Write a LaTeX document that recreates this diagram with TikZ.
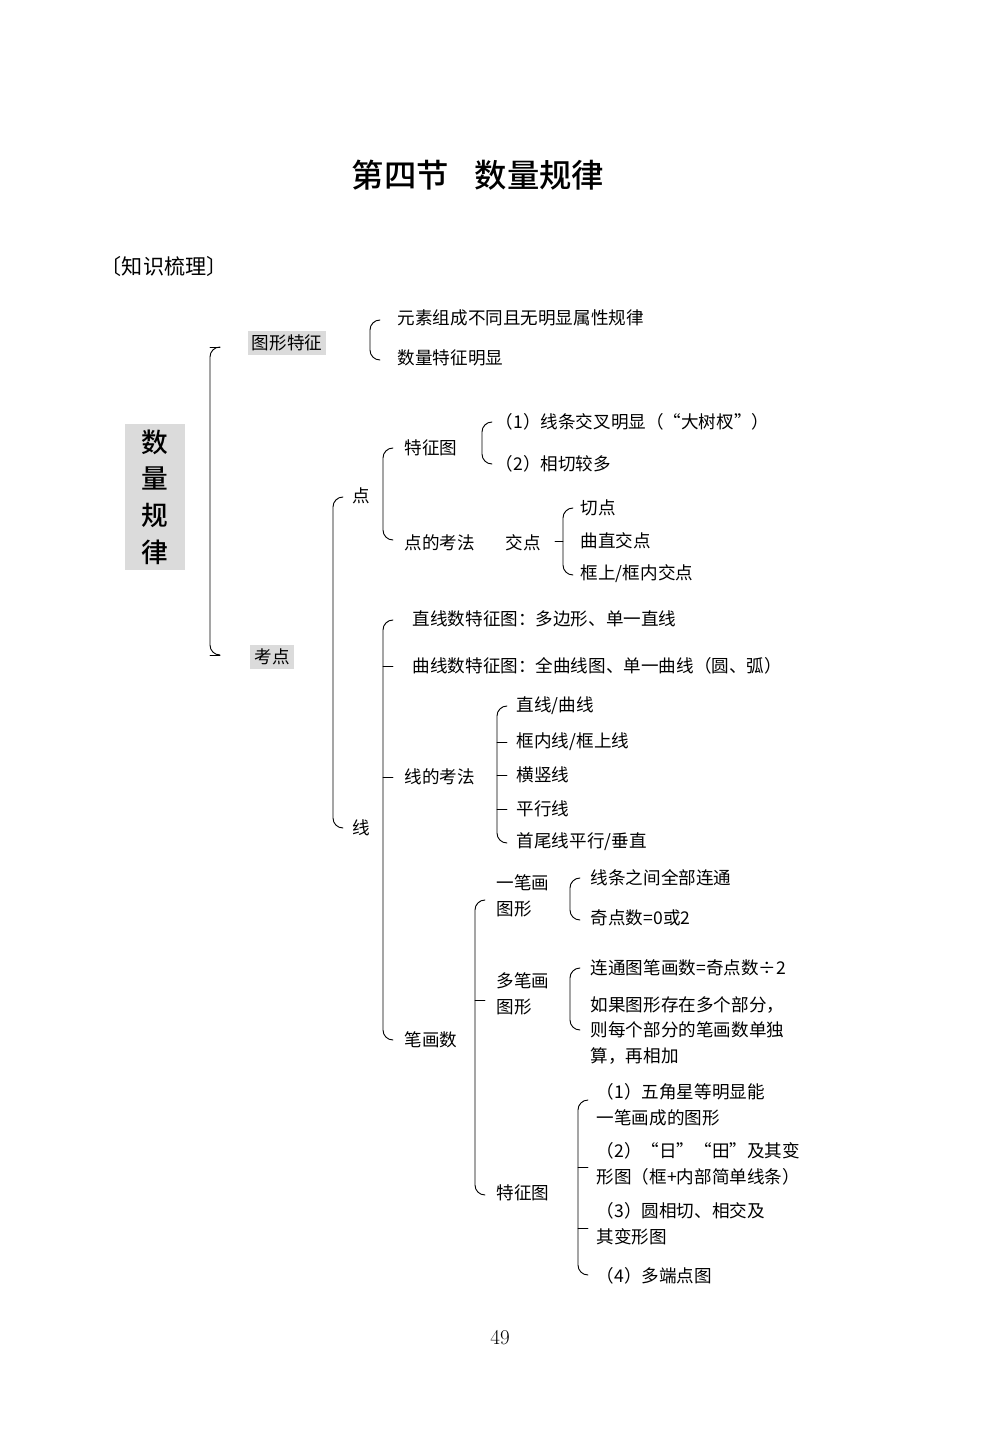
\documentclass[tikz,border=0pt]{standalone}
\usepackage{fontspec}
\newfontfamily\cjk{Noto Sans CJK SC}
\newfontfamily\cjkb{Noto Sans CJK SC Medium}
\begin{document}
\begin{tikzpicture}[x=0.05cm,y=-0.05cm,
  t/.style={font=\cjk\fontsize{25}{36}\selectfont,inner sep=1pt},
  tl/.style={t,anchor=west},
  tm/.style={t,align=left,anchor=north west},
  br/.style={line width=1.3pt,line cap=round},
  gbox/.style={t,fill=gray!28,inner sep=6pt}]
\useasboundingbox (0,0) rectangle (1000,1445);
\newcommand\brk[3]{\draw[br] ({#1+10},#2) to[out=180,in=90] (#1,{#2+10}) -- (#1,{#3-10}) to[out=-90,in=180] ({#1+10},#3);}
\newcommand\tk[2]{\draw[br] (#1,#2) -- ({#1+10},#2);}
\newcommand\tkl[2]{\draw[br] ({#1-8},#2) -- (#1,#2);}

\node[font=\cjkb\fontsize{46}{54}\selectfont] (title) at (478,175) {第四节\hspace{0.8em}数量规律};
\node[t,font=\cjk\fontsize{30}{36}\selectfont,anchor=west] (zs) at (100,266) {〔知识梳理〕};
\node[gbox,font=\cjkb\fontsize{38}{52}\selectfont,align=center,minimum width=85pt,inner ysep=8pt] (root) at (155,497) {数\\量\\规\\律};

\brk{210}{347}{655}
\node[gbox] (tx) at (287,343) {图形特征};
\node[gbox] (kd) at (272,657) {考点};
\tk{210}{347}\tk{210}{655}

\brk{370}{320}{360}
\node[tl] (a1) at (397,318) {元素组成不同且无明显属性规律};
\node[tl] (a2) at (397,358) {数量特征明显};

\brk{333}{497}{828}
\node[tl] (dian) at (352,496) {点};
\node[tl] (xian) at (352,828) {线};

\brk{383}{448}{540}
\node[tl] (tzt) at (404,448) {特征图};
\node[tl] (dkf) at (404,543) {点的考法};
\node[tl] (jd) at (505,543) {交点};

\brk{482}{422}{464}
\node[tl] (b1) at (495,422) {（1）线条交叉明显（“大树杈”）};
\node[tl] (b2) at (495,464) {（2）相切较多};

\brk{563}{508}{575}\tkl{563}{541}
\node[tl] (c1) at (580,508) {切点};
\node[tl] (c2) at (580,541) {曲直交点};
\node[tl] (c3) at (580,574) {框上/框内交点};

\brk{383}{620}{1040}\tk{383}{666}\tk{383}{777}
\node[tl] (d1) at (412,619) {直线数特征图：多边形、单一直线};
\node[tl] (d2) at (412,666) {曲线数特征图：全曲线图、单一曲线（圆、弧）};
\node[tl] (xkf) at (404,777) {线的考法};
\node[tl] (bhs) at (404,1040) {笔画数};

\brk{497}{706}{843}\tk{497}{742}\tk{497}{775}\tk{497}{809}
\node[tl] (e1) at (516,706) {直线/曲线};
\node[tl] (e2) at (516,742) {框内线/框上线};
\node[tl] (e3) at (516,775) {横竖线};
\node[tl] (e4) at (516,809) {平行线};
\node[tl] (e5) at (516,842) {首尾线平行/垂直};

\brk{475}{900}{1195}\tk{475}{1000}
\node[tm] (f1) at (496,874) {一笔画\\图形};
\node[tm] (f2) at (496,972) {多笔画\\图形};
\node[tl] (f3) at (496,1193) {特征图};

\brk{570}{878}{920}
\node[tl] (g1) at (590,878) {线条之间全部连通};
\node[tl] (g2) at (590,918) {奇点数=0或2};

\brk{570}{968}{1030}
\node[tl] (h1) at (590,968) {连通图笔画数=奇点数÷2};
\node[tm] (h2) at (590,996) {如果图形存在多个部分，\\则每个部分的笔画数单独\\算，再相加};

\brk{578}{1100}{1275}\tk{578}{1167}\tk{578}{1228}
\node[tm] (i1) at (596,1083) {（1）五角星等明显能\\一笔画成的图形};
\node[tm] (i2) at (596,1142) {（2）“日”“田”及其变\\形图（框+内部简单线条）};
\node[tm] (i3) at (596,1202) {（3）圆相切、相交及\\其变形图};
\node[tl] (i4) at (596,1276) {（4）多端点图};

\node[font=\fontsize{30}{34}\selectfont] (pg) at (500,1338) {49};
\end{tikzpicture}
\end{document}
